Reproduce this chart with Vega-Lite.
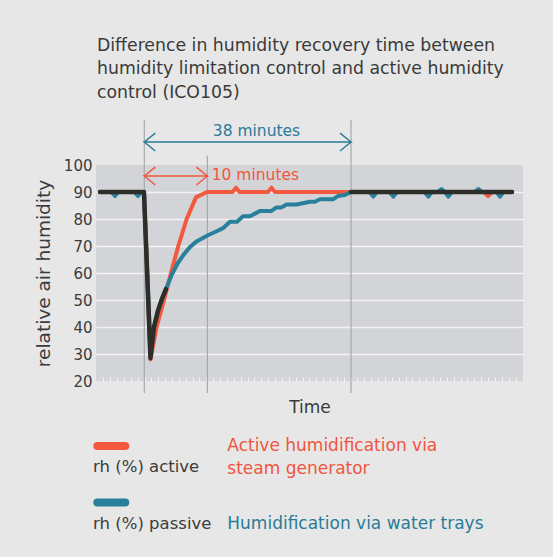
{
  "$schema": "https://vega.github.io/schema/vega-lite/v6.json",
  "width": 427,
  "height": 216,
  "autosize": {"type": "none"},
  "padding": {"left": 96, "top": 165, "right": 30, "bottom": 176},
  "background": "#e7e7e7",
  "config": {
    "view": {"fill": "#d3d4d8", "stroke": null},
    "font": "DejaVu Sans"
  },
  "title": {
    "text": ["Difference in humidity recovery time between", "humidity limitation control and active humidity", "control (ICO105)"],
    "anchor": "start",
    "frame": "group",
    "offset": 18,
    "fontSize": 17.3,
    "fontWeight": "normal",
    "color": "#3a3a3a",
    "lineHeight": 23.7,
    "dx": 1
  },
  "datasets": {
    "active": [
      {"t": -0.48, "v": 90}, {"t": 1.27, "v": 90}, {"t": 1.70, "v": 89.3}, {"t": 2.14, "v": 90},
      {"t": 4.61, "v": 90}, {"t": 5.05, "v": 89.3}, {"t": 5.49, "v": 90}, {"t": 5.92, "v": 90},
      {"t": 6.87, "v": 28}, {"t": 7.77, "v": 40}, {"t": 8.84, "v": 50}, {"t": 9.85, "v": 60},
      {"t": 10.92, "v": 70}, {"t": 12.14, "v": 80}, {"t": 13.49, "v": 88}, {"t": 15.09, "v": 90},
      {"t": 18.8, "v": 90}, {"t": 19.32, "v": 91.6}, {"t": 19.83, "v": 90},
      {"t": 23.97, "v": 90}, {"t": 24.48, "v": 91.6}, {"t": 24.99, "v": 90},
      {"t": 36.06, "v": 90}, {"t": 38.81, "v": 90}, {"t": 39.30, "v": 89.4}, {"t": 39.77, "v": 90},
      {"t": 41.73, "v": 90}, {"t": 42.21, "v": 89.4}, {"t": 42.68, "v": 90},
      {"t": 46.83, "v": 90}, {"t": 47.31, "v": 89.4}, {"t": 47.78, "v": 90},
      {"t": 49.74, "v": 90}, {"t": 50.22, "v": 89.4}, {"t": 50.69, "v": 90},
      {"t": 55.42, "v": 90}, {"t": 56.0, "v": 88.5}, {"t": 56.59, "v": 90},
      {"t": 57.17, "v": 90}, {"t": 57.74, "v": 89.4}, {"t": 58.33, "v": 90}, {"t": 59.49, "v": 90}
    ],
    "passive": [
      {"t": -0.48, "v": 90}, {"t": 1.19, "v": 90}, {"t": 1.70, "v": 88.5}, {"t": 2.21, "v": 90},
      {"t": 4.54, "v": 90}, {"t": 5.05, "v": 88.5}, {"t": 5.56, "v": 90}, {"t": 5.92, "v": 90},
      {"t": 6.87, "v": 31}, {"t": 7.38, "v": 40}, {"t": 7.96, "v": 46}, {"t": 8.55, "v": 50.5},
      {"t": 9.27, "v": 55}, {"t": 10.0, "v": 59.5}, {"t": 10.87, "v": 63.8}, {"t": 11.75, "v": 67},
      {"t": 12.62, "v": 69.6}, {"t": 13.64, "v": 71.8}, {"t": 15.09, "v": 73.8}, {"t": 16.26, "v": 75.2},
      {"t": 17.42, "v": 76.6}, {"t": 18.44, "v": 79}, {"t": 19.46, "v": 79}, {"t": 20.33, "v": 81},
      {"t": 21.35, "v": 81}, {"t": 22.8, "v": 83}, {"t": 24.48, "v": 83}, {"t": 25.21, "v": 84.3},
      {"t": 25.94, "v": 84.3}, {"t": 26.67, "v": 85.4}, {"t": 28.12, "v": 85.4}, {"t": 30.09, "v": 86.4},
      {"t": 30.82, "v": 86.4}, {"t": 31.54, "v": 87.3}, {"t": 33.44, "v": 87.3}, {"t": 34.16, "v": 88.5},
      {"t": 35.18, "v": 88.9}, {"t": 36.06, "v": 90},
      {"t": 38.74, "v": 90}, {"t": 39.30, "v": 88.3}, {"t": 39.83, "v": 90},
      {"t": 41.66, "v": 90}, {"t": 42.21, "v": 88.3}, {"t": 42.75, "v": 90},
      {"t": 46.76, "v": 90}, {"t": 47.31, "v": 88.3}, {"t": 47.85, "v": 90},
      {"t": 48.65, "v": 90}, {"t": 49.23, "v": 91.1}, {"t": 49.74, "v": 90},
      {"t": 50.22, "v": 88.3}, {"t": 50.76, "v": 90},
      {"t": 54.03, "v": 90}, {"t": 54.6, "v": 91.1}, {"t": 55.13, "v": 90},
      {"t": 57.23, "v": 90}, {"t": 57.74, "v": 88.3}, {"t": 58.25, "v": 90}, {"t": 59.49, "v": 90}
    ],
    "control": [
      {"seg": 1, "t": -0.48, "v": 90}, {"seg": 1, "t": 5.92, "v": 90}, {"seg": 1, "t": 6.87, "v": 28.5},
      {"seg": 1, "t": 7.38, "v": 40}, {"seg": 1, "t": 7.96, "v": 46}, {"seg": 1, "t": 8.55, "v": 50.5},
      {"seg": 1, "t": 9.13, "v": 54},
      {"seg": 2, "t": 36.06, "v": 90}, {"seg": 2, "t": 59.49, "v": 90}
    ],
    "markers": [
      {"t": 5.97, "v": 15.6, "v2": 116.7},
      {"t": 15.15, "v": 15.6, "v2": 103.5},
      {"t": 36.06, "v": 15.6, "v2": 116.7}
    ],
    "arrow38": [
      {"o": 1, "t": 7.57, "v": 111.8}, {"o": 2, "t": 5.97, "v": 108.5}, {"o": 3, "t": 7.57, "v": 105.2},
      {"o": 4, "t": 5.97, "v": 108.5}, {"o": 5, "t": 36.06, "v": 108.5}, {"o": 6, "t": 34.46, "v": 111.8},
      {"o": 7, "t": 36.06, "v": 108.5}, {"o": 8, "t": 34.46, "v": 105.2}
    ],
    "arrow10": [
      {"o": 1, "t": 7.57, "v": 99.2}, {"o": 2, "t": 5.97, "v": 95.9}, {"o": 3, "t": 7.57, "v": 92.6},
      {"o": 4, "t": 5.97, "v": 95.9}, {"o": 5, "t": 15.15, "v": 95.9}, {"o": 6, "t": 13.55, "v": 99.2},
      {"o": 7, "t": 15.15, "v": 95.9}, {"o": 8, "t": 13.55, "v": 92.6}
    ],
    "label38": [{"t": 22.3, "v": 112.6, "label": "38 minutes"}],
    "label10": [{"t": 15.78, "v": 96.3, "label": "10 minutes"}],
    "swatchActive": [{"t": -0.87, "t2": 3.2, "v": -4.07}],
    "swatchPassive": [{"t": -0.87, "t2": 3.2, "v": -25.0}],
    "legendGray": [
      {"t": -1.48, "v": -11.74, "label": "rh (%) active"},
      {"t": -1.48, "v": -33.07, "label": "rh (%) passive"}
    ],
    "legendRed": [
      {"t": 18.05, "v": -4.07, "label": "Active humidification via"},
      {"t": 18.05, "v": -12.59, "label": "steam generator"}
    ],
    "legendBlue": [
      {"t": 18.05, "v": -33.07, "label": "Humidification via water trays"}
    ]
  },
  "encoding": {
    "x": {
      "field": "t", "type": "quantitative",
      "scale": {"domain": [-1.06, 61.09], "nice": false, "zero": false},
      "axis": {
        "values": [0,1,2,3,4,5,6,7,8,9,10,11,12,13,14,15,16,17,18,19,20,21,22,23,24,25,26,27,28,29,30,31,32,33,34,35,36,37,38,39,40,41,42,43,44,45,46,47,48,49,50,51,52,53,54,55,56,57,58,59,60],
        "labels": false, "domain": false, "grid": false,
        "ticks": true, "tickColor": "#f4f4f6", "tickSize": -4, "tickWidth": 1,
        "title": "Time", "titleFontSize": 17, "titleFontWeight": "normal",
        "titleColor": "#3a3a3a", "titlePadding": 18
      }
    },
    "y": {
      "field": "v", "type": "quantitative",
      "scale": {"domain": [20, 100], "nice": false, "zero": false},
      "axis": {
        "values": [20,30,40,50,60,70,80,90,100],
        "labelOverlap": false,
        "domain": false, "ticks": false,
        "grid": true, "gridColor": "#f3f3f3", "gridWidth": 1.5,
        "gridOpacity": {"condition": {"test": "datum.value == 20 || datum.value == 100", "value": 0}, "value": 1},
        "labelFontSize": 15, "labelColor": "#3c3c3c", "labelPadding": 4,
        "title": "relative air humidity", "titleFontSize": 18.5, "titleFontWeight": "normal",
        "titleColor": "#3a3a3a", "titlePadding": 10
      }
    }
  },
  "layer": [
    {
      "data": {"name": "markers"},
      "mark": {"type": "rule", "color": "#a7a9ad", "strokeWidth": 1.2},
      "encoding": {"y2": {"field": "v2"}}
    },
    {
      "data": {"name": "active"},
      "mark": {"type": "line", "color": "#f3593e", "strokeWidth": 4, "strokeCap": "round", "strokeJoin": "round"}
    },
    {
      "data": {"name": "passive"},
      "mark": {"type": "line", "color": "#29809a", "strokeWidth": 4, "strokeCap": "round", "strokeJoin": "round"}
    },
    {
      "data": {"name": "control"},
      "mark": {"type": "line", "color": "#2d2e29", "strokeWidth": 4.5, "strokeCap": "round", "strokeJoin": "round"},
      "encoding": {"detail": {"field": "seg", "type": "nominal"}}
    },
    {
      "data": {"name": "arrow38"},
      "mark": {"type": "line", "color": "#2a7b97", "strokeWidth": 1.4},
      "encoding": {"order": {"field": "o", "type": "quantitative"}}
    },
    {
      "data": {"name": "arrow10"},
      "mark": {"type": "line", "color": "#f1553c", "strokeWidth": 1.4},
      "encoding": {"order": {"field": "o", "type": "quantitative"}}
    },
    {
      "data": {"name": "label38"},
      "mark": {"type": "text", "color": "#2a7b97", "fontSize": 15.5, "align": "center", "baseline": "middle"},
      "encoding": {"text": {"field": "label"}}
    },
    {
      "data": {"name": "label10"},
      "mark": {"type": "text", "color": "#f1553c", "fontSize": 15.5, "align": "left", "baseline": "middle"},
      "encoding": {"text": {"field": "label"}}
    },
    {
      "data": {"name": "swatchActive"},
      "mark": {"type": "rule", "color": "#f3593e", "strokeWidth": 8, "strokeCap": "round"},
      "encoding": {"x2": {"field": "t2"}}
    },
    {
      "data": {"name": "swatchPassive"},
      "mark": {"type": "rule", "color": "#29809a", "strokeWidth": 8, "strokeCap": "round"},
      "encoding": {"x2": {"field": "t2"}}
    },
    {
      "data": {"name": "legendGray"},
      "mark": {"type": "text", "color": "#3c3c3c", "fontSize": 16.5, "align": "left", "baseline": "middle"},
      "encoding": {"text": {"field": "label"}}
    },
    {
      "data": {"name": "legendRed"},
      "mark": {"type": "text", "color": "#ef5540", "fontSize": 17, "align": "left", "baseline": "middle"},
      "encoding": {"text": {"field": "label"}}
    },
    {
      "data": {"name": "legendBlue"},
      "mark": {"type": "text", "color": "#2a7b97", "fontSize": 17, "align": "left", "baseline": "middle"},
      "encoding": {"text": {"field": "label"}}
    }
  ]
}
